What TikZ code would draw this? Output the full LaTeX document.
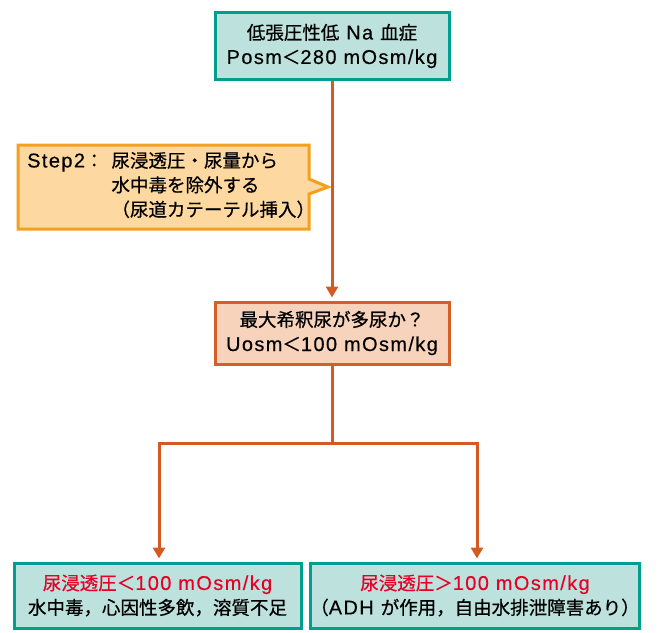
\documentclass[tikz,border=0pt]{standalone}
\usepackage{fontspec}
\setmainfont{Liberation Sans}[LetterSpace=7, Scale=1.08, FakeBold=0.3]
\newfontfamily\cjk{Noto Sans CJK JP}[FakeBold=0.6]
\newcommand\jp[1]{{\cjk #1}}
\usetikzlibrary{arrows.meta}
\definecolor{tealB}{RGB}{0,158,142}
\definecolor{tealF}{RGB}{189,225,220}
\definecolor{orgB}{RGB}{243,160,30}
\definecolor{orgF}{RGB}{253,216,160}
\definecolor{brB}{RGB}{212,96,40}
\definecolor{brF}{RGB}{246,211,186}
\definecolor{lineC}{RGB}{212,90,36}
\definecolor{redT}{RGB}{230,0,40}
\begin{document}
\begin{tikzpicture}[x=1pt,y=-1pt,
  txt/.style={font=\fontsize{18.5}{24.5}\selectfont, align=center, inner sep=0pt},
  tealbox/.style={txt, draw=tealB, fill=tealF, line width=3pt},
  brbox/.style={txt, draw=brB, fill=brF, line width=3pt},
  conn/.style={draw=lineC, line width=3pt, -{Triangle[width=12pt,length=11pt]}, shorten >=3pt},
  plain/.style={draw=lineC, line width=3pt}]
\useasboundingbox (0,0) rectangle (668,632);
% top
\node[tealbox, minimum width=234pt, minimum height=67pt] (top) at (332,46)
  {\jp{低張圧性低} Na \jp{血症}\\Posm\jp{＜}280 mOsm/kg};
% middle
\node[brbox, minimum width=234pt, minimum height=62pt] (mid) at (332,333)
  {\jp{最大希釈尿が多尿か？}\\Uosm\jp{＜}100 mOsm/kg};
% callout
\draw[draw=orgB, fill=orgF, line width=3pt, line join=miter]
  (18,145) -- (309,145) -- (309,179) -- (328,187) -- (309,194) -- (309,229) -- (18,229) -- cycle;
\node[txt, anchor=west, align=left] (call) at (27,187)
  {\begin{tabular}{@{}l@{\hspace{8pt}}l@{}}Step2\jp{：}&\jp{尿浸透圧・尿量から}\\&\jp{水中毒を除外する}\\&\jp{（尿道カテーテル挿入）}\end{tabular}};
% bottom
\node[tealbox, minimum width=287pt, minimum height=65pt] (bl) at (157.5,595.5)
  {\textcolor{redT}{\jp{尿浸透圧＜}100 mOsm/kg}\\\jp{水中毒，心因性多飲，溶質不足}};
\node[tealbox, minimum width=324pt, minimum height=65pt] (brr) at (475,595.5)
  {\textcolor{redT}{\jp{尿浸透圧＞}100 mOsm/kg}\\\jp{（}ADH \jp{が作用，自由水排泄障害あり）}};
% connectors
\draw[conn] (top.south) -- (mid.north);
\coordinate (br) at (332,443);
\coordinate (lt) at (159,443);
\coordinate (rt) at (477,443);
\draw[plain] (mid.south) -- (br);
\draw[conn] (br) -- (lt) -- (lt |- bl.north);
\draw[conn] (br) -- (rt) -- (rt |- brr.north);
\end{tikzpicture}
\end{document}
